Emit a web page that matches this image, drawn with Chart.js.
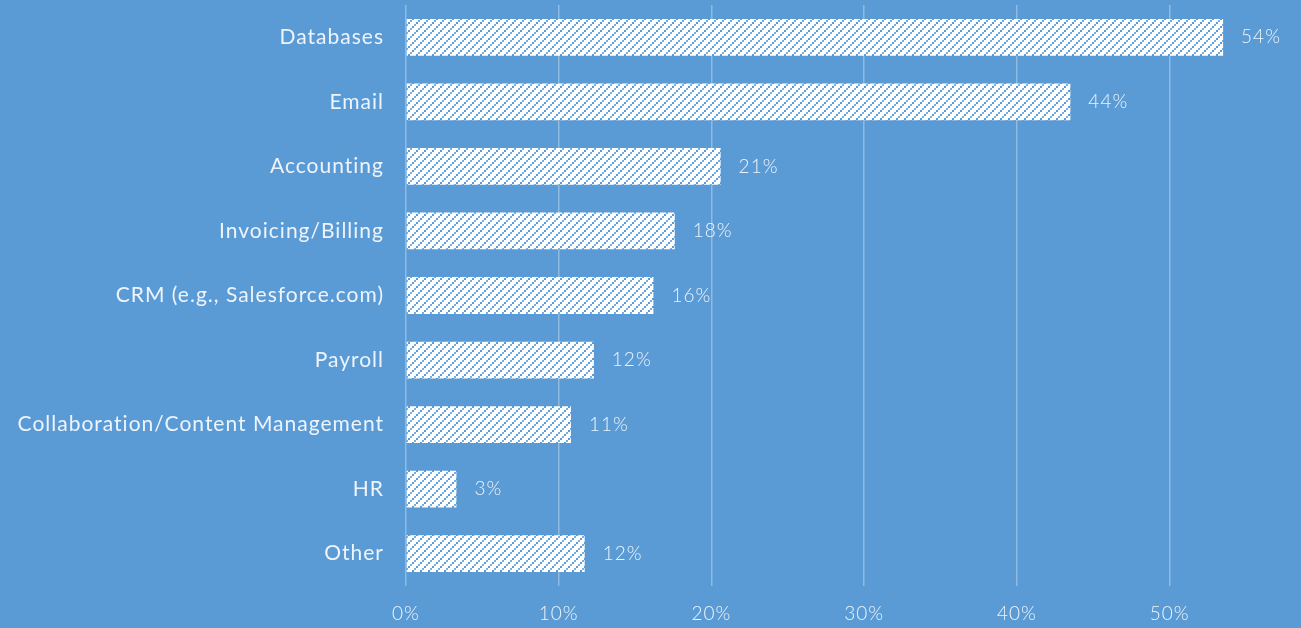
<!DOCTYPE html>
<html>
<head>
<meta charset="utf-8">
<script src="https://cdn.jsdelivr.net/npm/chart.js@4/dist/chart.umd.min.js"></script>
<style>
    html, body { margin: 0; padding: 0; background: #5b9bd5; }
    #wrap { width: 1301px; height: 628px; position: relative; }
</style>
</head>
<body>
<div id="wrap"><canvas id="usageChart"></canvas></div>
<script>
// Dữ liệu
const categories = [
    'Databases', 'Email', 'Accounting', 'Invoicing/Billing', 'CRM (e.g., Salesforce.com)',
    'Payroll', 'Collaboration/Content Management', 'HR', 'Other'
];
const shares = [53.5, 43.5, 20.6, 17.6, 16.2, 12.3, 10.8, 3.3, 11.7];
const xTicks = [0, 10, 20, 30, 40, 50];

const BG = '#5b9bd5';
const TEXT = '#eef4fb';

// Hoa văn sọc chéo: nền trắng, chấm vuông 2px xanh chạy chéo lên phải, cách 8px
function makeHatch() {
    const c = document.createElement('canvas');
    c.width = 8; c.height = 8;
    const g = c.getContext('2d');
    g.fillStyle = '#ffffff';
    g.fillRect(0, 0, 8, 8);
    g.fillStyle = '#5a9ad6';
    [[0, 6], [4, 2]].forEach(([x, y]) => g.fillRect(x, y, 2, 2));
    g.fillStyle = '#78aee0';
    [[2, 4], [6, 0]].forEach(([x, y]) => g.fillRect(x, y, 2, 2));
    return g.createPattern(c, 'repeat');
}

// Giãn chữ nhẹ (canvas reset state khi resize nên gán lại mỗi lần)
const spacing = {
    id: 'spacing',
    beforeUpdate(chart) { chart.ctx.letterSpacing = '1px'; },
    beforeDraw(chart) { chart.ctx.letterSpacing = '1px'; }
};

// Nhãn % ở cuối mỗi thanh
const valueLabels = {
    id: 'valueLabels',
    afterDatasetsDraw(chart) {
        const ctx = chart.ctx;
        const meta = chart.getDatasetMeta(0);
        ctx.save();
        ctx.font = '300 19px Lato';
        ctx.fillStyle = TEXT;
        ctx.textAlign = 'left';
        ctx.textBaseline = 'middle';
        meta.data.forEach((bar, i) => {
            ctx.fillText(Math.round(shares[i]) + '%', bar.x + 18, bar.y);
        });
        ctx.restore();
    }
};

const ctx = document.getElementById('usageChart');
new Chart(ctx, {
    type: 'bar',
    data: {
        labels: categories,
        datasets: [{
            data: shares,
            backgroundColor: makeHatch(),
            borderWidth: 0,
            categoryPercentage: 1,
            barPercentage: 0.57
        }]
    },
    options: {
        indexAxis: 'y',
        responsive: true,
        maintainAspectRatio: false,
        animation: false,
        layout: { padding: { top: 5, right: 55, bottom: 3, left: 0 } },
        plugins: { legend: { display: false }, tooltip: { enabled: false } },
        scales: {
            x: {
                min: 0,
                max: 55,
                afterBuildTicks: (axis) => { axis.ticks = xTicks.map(v => ({ value: v })); },
                afterFit: (axis) => {
                    axis.height = 39;
                    axis.paddingLeft = 0;
                    axis.paddingRight = 0;
                },
                grid: { color: 'rgba(255,255,255,0.32)', lineWidth: 1.5, drawTicks: false },
                border: { display: false },
                ticks: {
                    padding: 16,
                    color: TEXT,
                    font: { family: 'Lato', size: 19, weight: 300 },
                    callback: (v) => v + '%'
                }
            },
            y: {
                afterFit: (axis) => {
                    axis.width = 406;
                    axis.paddingTop = 0;
                    axis.paddingBottom = 0;
                },
                grid: { display: false },
                border: { display: false },
                ticks: {
                    padding: 14,
                    color: TEXT,
                    font: { family: 'Lato', size: 21 }
                }
            }
        }
    },
    plugins: [spacing, valueLabels]
});
</script>
</body>
</html>
